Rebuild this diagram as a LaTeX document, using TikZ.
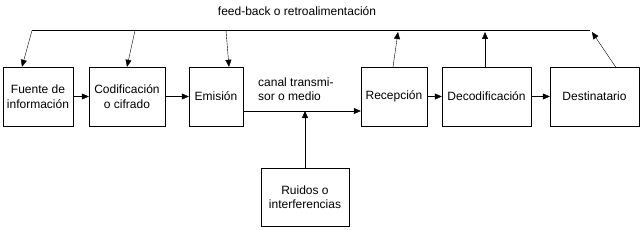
\documentclass[tikz,border=0pt]{standalone}
\usepackage{fontspec}
\setmainfont{Liberation Sans}
\usetikzlibrary{arrows.meta}
\tikzset{
  caja/.style={draw, minimum height=59pt, align=center, inner sep=1pt,
    font=\fontsize{12}{14.5}\selectfont},
  flecha/.style={-{Triangle[length=7pt,width=6pt]}},
  texto/.style={font=\fontsize{12}{14.5}\selectfont, inner sep=0pt}
}
\begin{document}
\begin{tikzpicture}[x=1pt,y=-1pt]
\useasboundingbox (0,0) rectangle (642,230);

% Cajas
\node[caja, minimum width=70pt] (fuente) at (38,96.5) {Fuente de\\información};
\node[caja, minimum width=76pt] (codif) at (127,96.5) {Codificación\\o cifrado};
\node[caja, minimum width=54pt] (emision) at (216,96.5) {Emisión};
\node[caja, minimum width=66pt] (recep) at (394,96.5) {Recepción};
\node[caja, minimum width=89pt] (decod) at (486.5,96.5) {Decodificación};
\node[caja, minimum width=89pt] (dest) at (594.5,96.5) {Destinatario};
\node[caja, minimum width=88pt, minimum height=58pt] (ruidos) at (305,197) {Ruidos o\\interferencias};

% Textos
\node[texto] (fb) at (297,11) {feed-back o retroalimentación};
\node[texto, anchor=west, align=left] (canal) at (258,89) {canal transmi-\\sor o medio};

% Linea de retroalimentacion
\coordinate (fbA) at (32,30.5);
\coordinate (fbB) at (135,30.5);
\coordinate (fbC) at (226,30.5);
\coordinate (fbZ) at (590,30.5);
\draw (fbA) -- (fbZ);
\draw[flecha] (fbA) -- ([xshift=-16pt]fuente.north);
\draw[flecha] (fbB) -- (codif.north);
\draw[flecha] (fbC) -- ([xshift=13pt]emision.north);

% Retorno hacia arriba
\coordinate (upR) at (398,32);
\coordinate (upD) at (485,32);
\coordinate (upT) at (592,32);
\draw[flecha] ([xshift=-1pt]recep.north) -- (upR);
\draw[flecha] ([xshift=-1.5pt]decod.north) -- (upD);
\draw[flecha] ([xshift=21pt]dest.north) -- (upT);

% Cadena principal
\draw[flecha] (fuente) -- (codif);
\draw[flecha] (codif) -- (emision);
\draw[flecha] ([yshift=-14.5pt]emision.east) -- ([yshift=-14.5pt]recep.west);
\draw[flecha] (ruidos.north) -- (ruidos.north |- 0,111);
\draw[flecha] (decod) -- (dest);
\draw[flecha] (recep) -- (decod);

\end{tikzpicture}
\end{document}
